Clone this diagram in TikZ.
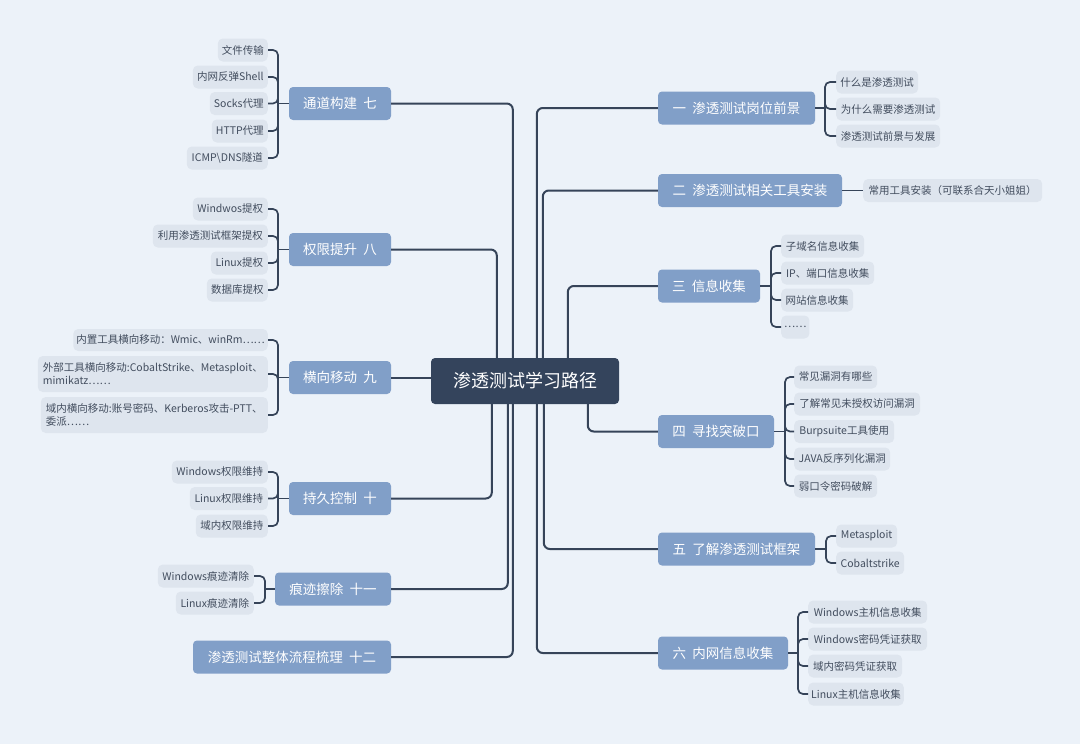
\documentclass[tikz,border=0pt]{standalone}
\usepackage{fontspec}
\newfontfamily\cjk{Noto Sans CJK SC}
\definecolor{bg}{HTML}{ECF2F9}
\definecolor{mainfill}{HTML}{819FC8}
\definecolor{leaffill}{HTML}{DEE5EE}
\definecolor{centerfill}{HTML}{34445C}
\definecolor{linec}{HTML}{364459}
\definecolor{leaftext}{HTML}{424D5E}
\tikzset{
  centerbox/.style={fill=centerfill, rounded corners=4pt, text=white, minimum height=46pt, inner sep=2pt, font=\cjk\fontsize{18}{22}\selectfont},
  mainbox/.style={fill=mainfill, rounded corners=4pt, text=white, minimum height=33pt, inner sep=2pt, font=\cjk\fontsize{13.5}{16}\selectfont},
  leafbox/.style={fill=leaffill, rounded corners=5pt, text=leaftext, minimum height=23pt, inner xsep=3pt, inner ysep=2pt, font=\cjk\fontsize{10.5}{13}\selectfont},
  lleaf/.style={leafbox, anchor=east},
  rleaf/.style={leafbox, anchor=west},
  conn/.style={draw=linec, line width=2pt, rounded corners=6pt},
  brk/.style={draw=linec, line width=1.7pt, rounded corners=5pt},
}
\begin{document}
\begin{tikzpicture}[x=1pt,y=-1pt]
\fill[bg] (0,0) rectangle (1080,744);
\useasboundingbox (0,0) rectangle (1080,744);

% center
\node[centerbox, minimum width=188pt] (c) at (525,381) {渗透测试学习路径};

% main nodes right
\node[mainbox, minimum width=157pt] (n1) at (736.5,108) {一\ \ 渗透测试岗位前景};
\node[mainbox, minimum width=184pt] (n2) at (750,190.5) {二\ \ 渗透测试相关工具安装};
\node[mainbox, minimum width=102pt] (n3) at (709,286) {三\ \ 信息收集};
\node[mainbox, minimum width=116pt] (n4) at (716,431.5) {四\ \ 寻找突破口};
\node[mainbox, minimum width=157pt] (n5) at (736.5,549) {五\ \ 了解渗透测试框架};
\node[mainbox, minimum width=130pt] (n6) at (723,653) {六\ \ 内网信息收集};
% main nodes left
\node[mainbox, minimum width=102pt] (n7) at (340,103.5) {通道构建\ \ 七};
\node[mainbox, minimum width=102pt] (n8) at (340,249.5) {权限提升\ \ 八};
\node[mainbox, minimum width=102pt] (n9) at (340,377.5) {横向移动\ \ 九};
\node[mainbox, minimum width=102pt] (n10) at (340,498.5) {持久控制\ \ 十};
\node[mainbox, minimum width=116pt] (n11) at (333,589) {痕迹擦除\ \ 十一};
\node[mainbox, minimum width=198pt] (n12) at (292,657) {渗透测试整体流程梳理\ \ 十二};

% main connectors
\draw[conn] ([xshift=106pt]c.north west) |- (n1.west);
\draw[conn] ([xshift=112pt]c.north west) |- (n2.west);
\draw[conn] ([xshift=137pt]c.north west) |- (n3.west);
\draw[conn] ([xshift=157pt]c.south west) |- (n4.west);
\draw[conn] ([xshift=113pt]c.south west) |- (n5.west);
\draw[conn] ([xshift=106pt]c.south west) |- (n6.west);
\draw[conn] ([xshift=82pt]c.north west) |- (n7.east);
\draw[conn] ([xshift=66pt]c.north west) |- (n8.east);
\draw[conn] (n9.east) -- (n9.east -| c.west);
\draw[conn] ([xshift=61pt]c.south west) |- (n10.east);
\draw[conn] ([xshift=77pt]c.south west) |- (n11.east);
\draw[conn] ([xshift=82pt]c.south west) |- (n12.east);

% ---- leaves 一
\node[rleaf, minimum width=82pt] (l1a) at (836,82) {什么是渗透测试};
\node[rleaf, minimum width=104pt] (l1b) at (836,109) {为什么需要渗透测试};
\node[rleaf, minimum width=104pt] (l1c) at (836,136) {渗透测试前景与发展};
\coordinate (b1) at (825,108);
\draw[brk] (n1.east) -- (b1);
\foreach \l in {l1a,l1b,l1c} \draw[brk] (b1) |- (\l.west);

% ---- leaves 二
\node[rleaf, minimum width=179pt] (l2a) at (863,190.5) {常用工具安装（可联系合天小姐姐）};
\draw[brk] (n2.east) -- (l2a.west);

% ---- leaves 三
\node[rleaf, minimum width=83pt] (l3a) at (781,246) {子域名信息收集};
\node[rleaf, minimum width=93pt] (l3b) at (781,273) {IP、端口信息收集};
\node[rleaf, minimum width=72pt] (l3c) at (781,300) {网站信息收集};
\node[rleaf, minimum width=26pt] (l3d) at (781,327) {……};
\coordinate (b3) at (771,286);
\draw[brk] (n3.east) -- (b3);
\foreach \l in {l3a,l3b,l3c,l3d} \draw[brk] (b3) |- (\l.west);

% ---- leaves 四
\node[rleaf, minimum width=83pt] (l4a) at (794,377) {常见漏洞有哪些};
\node[rleaf, minimum width=126pt] (l4b) at (794,404) {了解常见未授权访问漏洞};
\node[rleaf, minimum width=100pt] (l4c) at (794,431.5) {Burpsuite工具使用};
\node[rleaf, minimum width=96pt] (l4d) at (794,459) {JAVA反序列化漏洞};
\node[rleaf, minimum width=83pt] (l4e) at (794,486) {弱口令密码破解};
\coordinate (b4) at (785,431.5);
\draw[brk] (n4.east) -- (b4);
\foreach \l in {l4a,l4b,l4c,l4d,l4e} \draw[brk] (b4) |- (\l.west);

% ---- leaves 五
\node[rleaf, minimum width=61pt] (l5a) at (836,536) {Metasploit};
\node[rleaf, minimum width=68pt] (l5b) at (836,563) {Cobaltstrike};
\coordinate (b5) at (826,549);
\draw[brk] (n5.east) -- (b5);
\foreach \l in {l5a,l5b} \draw[brk] (b5) |- (\l.west);

% ---- leaves 六
\node[rleaf, minimum width=119pt] (l6a) at (808,612) {Windows主机信息收集};
\node[rleaf, minimum width=119pt] (l6b) at (808,639) {Windows密码凭证获取};
\node[rleaf, minimum width=94pt] (l6c) at (808,666) {域内密码凭证获取};
\node[rleaf, minimum width=95pt] (l6d) at (808,694) {Linux主机信息收集};
\coordinate (b6) at (798,653);
\draw[brk] (n6.east) -- (b6);
\foreach \l in {l6a,l6b,l6c,l6d} \draw[brk] (b6) |- (\l.west);

% ---- leaves 七
\node[lleaf, minimum width=50pt] (l7a) at (268,50) {文件传输};
\node[lleaf, minimum width=75pt] (l7b) at (268,77) {内网反弹Shell};
\node[lleaf, minimum width=58pt] (l7c) at (268,103.5) {Socks代理};
\node[lleaf, minimum width=56pt] (l7d) at (268,131) {HTTP代理};
\node[lleaf, minimum width=81pt] (l7e) at (268,158) {ICMP\textbackslash DNS隧道};
\coordinate (b7) at (278,103.5);
\draw[brk] (n7.west) -- (b7);
\foreach \l in {l7a,l7b,l7c,l7d,l7e} \draw[brk] (b7) |- (\l.east);

% ---- leaves 八
\node[lleaf, minimum width=75pt] (l8a) at (268,209) {Windwos提权};
\node[lleaf, minimum width=115pt] (l8b) at (268,236) {利用渗透测试框架提权};
\node[lleaf, minimum width=57pt] (l8c) at (268,263) {Linux提权};
\node[lleaf, minimum width=61pt] (l8d) at (268,290) {数据库提权};
\coordinate (b8) at (278,249.5);
\draw[brk] (n8.west) -- (b8);
\foreach \l in {l8a,l8b,l8c,l8d} \draw[brk] (b8) |- (\l.east);

% ---- leaves 九
\node[lleaf, minimum width=193pt, minimum height=22pt] (l9a) at (268,340) {内置工具横向移动：Wmic、winRm……};
\node[lleaf, minimum width=230pt, minimum height=36pt, align=left] (l9b) at (268,374) {外部工具横向移动:CobaltStrike、Metasploit、\\mimikatz……};
\node[lleaf, minimum width=227pt, minimum height=36pt, align=left] (l9c) at (268,415) {域内横向移动:账号密码、Kerberos攻击-PTT、\\委派……};
\coordinate (b9) at (278,377.5);
\draw[brk] (n9.west) -- (b9);
\foreach \l in {l9a,l9b,l9c} \draw[brk] (b9) |- (\l.east);

% ---- leaves 十
\node[lleaf, minimum width=96pt] (l10a) at (268,472) {Windows权限维持};
\node[lleaf, minimum width=78pt] (l10b) at (268,498.5) {Linux权限维持};
\node[lleaf, minimum width=72pt] (l10c) at (268,526) {域内权限维持};
\coordinate (b10) at (278,498.5);
\draw[brk] (n10.west) -- (b10);
\foreach \l in {l10a,l10b,l10c} \draw[brk] (b10) |- (\l.east);

% ---- leaves 十一
\node[lleaf, minimum width=96pt] (l11a) at (254,576) {Windows痕迹清除};
\node[lleaf, minimum width=78pt] (l11b) at (254,603) {Linux痕迹清除};
\coordinate (b11) at (265,589);
\draw[brk] (n11.west) -- (b11);
\foreach \l in {l11a,l11b} \draw[brk] (b11) |- (\l.east);
\end{tikzpicture}
\end{document}
